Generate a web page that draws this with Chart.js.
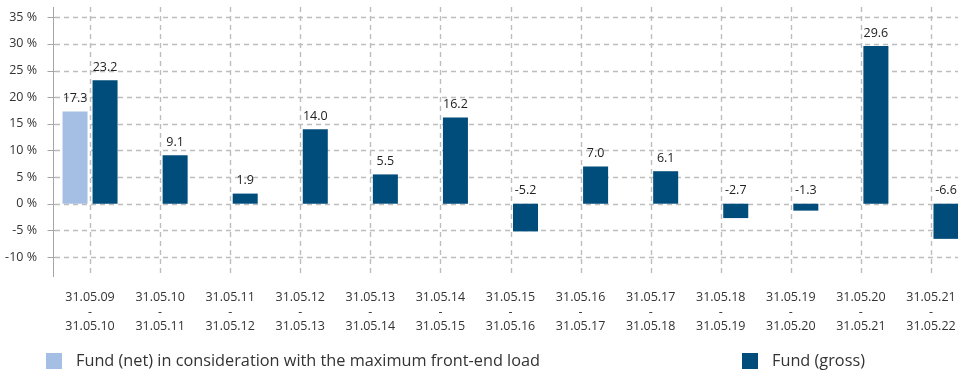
<!DOCTYPE html>
<html>
<head>
<meta charset="utf-8">
<script src="https://cdn.jsdelivr.net/npm/chart.js@4/dist/chart.umd.min.js"></script>
<style>
  html, body { margin: 0; padding: 0; background: #fff; overflow: hidden; }
  #wrap { position: relative; width: 958px; height: 373px; overflow: hidden; }
  canvas { display: block; }
</style>
</head>
<body>
<div id="wrap"><canvas id="c" width="966" height="373"></canvas></div>
<script>
// Annual performance periods
const periodStart = ['31.05.09','31.05.10','31.05.11','31.05.12','31.05.13','31.05.14','31.05.15','31.05.16','31.05.17','31.05.18','31.05.19','31.05.20','31.05.21'];
const periodEnd   = ['31.05.10','31.05.11','31.05.12','31.05.13','31.05.14','31.05.15','31.05.16','31.05.17','31.05.18','31.05.19','31.05.20','31.05.21','31.05.22'];

// Returns in percent
const fundNet   = [17.3, null, null, null, null, null, null, null, null, null, null, null, null];
const fundGross = [23.2, 9.1, 1.9, 14.0, 5.5, 16.2, -5.2, 7.0, 6.1, -2.7, -1.3, 29.6, -6.6];

// Y axis ticks (percent)
const yTicks = [-10, -5, 0, 5, 10, 15, 20, 25, 30, 35];

const seriesNames  = ['Fund (net) in consideration with the maximum front-end load', 'Fund (gross)'];
const seriesColors = ['#a4bee4', '#004c7b'];

const FONT = '"Open Sans", sans-serif';
const TEXT = '#333333';
const GRID = '#bdbdbd';

const labels = periodStart.map((s, i) => [s, '-', periodEnd[i]]);

// Dashed grid behind the bars: horizontal at each y tick, vertical at each category centre
const dashedGrid = {
  id: 'dashedGrid',
  beforeDatasetsDraw(chart) {
    const ctx = chart.ctx;
    const area = chart.chartArea;
    const xs = chart.scales.x, ys = chart.scales.y;
    ctx.save();
    ctx.strokeStyle = GRID;
    ctx.lineWidth = 1.4;
    ctx.setLineDash([5, 4]);
    yTicks.forEach(t => {
      const y = Math.round(ys.getPixelForValue(t)) + 0.5;
      ctx.beginPath();
      ctx.moveTo(area.left, y);
      ctx.lineTo(area.right, y);
      ctx.stroke();
    });
    labels.forEach((_, i) => {
      const x = Math.round(xs.getPixelForValue(i)) + 0.5;
      ctx.beginPath();
      ctx.moveTo(x, area.top);
      ctx.lineTo(x, area.bottom);
      ctx.stroke();
    });
    ctx.restore();
  }
};

// Value labels above each bar (negative bars labelled above the zero line)
const valueLabels = {
  id: 'valueLabels',
  afterDatasetsDraw(chart) {
    const ctx = chart.ctx;
    ctx.save();
    ctx.font = '12.5px ' + FONT;
    ctx.fillStyle = '#222222';
    ctx.textAlign = 'center';
    ctx.textBaseline = 'middle';
    chart.data.datasets.forEach((ds, di) => {
      chart.getDatasetMeta(di).data.forEach((bar, i) => {
        const v = ds.data[i];
        if (v === null || v === undefined) return;
        const top = Math.min(bar.y, bar.base);
        ctx.fillText(v.toFixed(1), bar.x, top - 13);
      });
    });
    ctx.restore();
  }
};

// Y axis line with small tick marks, and the legend row
const axisAndLegend = {
  id: 'axisAndLegend',
  afterDraw(chart) {
    const ctx = chart.ctx;
    const area = chart.chartArea;
    const ys = chart.scales.y;
    const ax = area.left - 1.5;
    ctx.save();
    ctx.strokeStyle = '#a6a6a6';
    ctx.lineWidth = 1;
    ctx.beginPath();
    ctx.moveTo(ax, area.top);
    ctx.lineTo(ax, area.bottom);
    yTicks.forEach(t => {
      const y = Math.round(ys.getPixelForValue(t)) + 0.5;
      ctx.moveTo(ax - 6, y);
      ctx.lineTo(area.left, y);
    });
    ctx.stroke();

    // legend
    const items = [{ x: 46 }, { x: 742 }];
    ctx.font = '16.3px ' + FONT;
    ctx.textBaseline = 'middle';
    ctx.textAlign = 'left';
    items.forEach((it, i) => {
      ctx.fillStyle = seriesColors[i];
      ctx.fillRect(it.x, 353, 16, 16);
      ctx.fillStyle = TEXT;
      ctx.fillText(seriesNames[i], it.x + 30, 361);
    });
    ctx.restore();
  }
};

new Chart(document.getElementById('c'), {
  type: 'bar',
  data: {
    labels: labels,
    datasets: [
      { label: seriesNames[0], data: fundNet, backgroundColor: seriesColors[0] },
      { label: seriesNames[1], data: fundGross, backgroundColor: seriesColors[1] }
    ]
  },
  options: {
    responsive: false,
    animation: false,
    devicePixelRatio: 1,
    layout: { padding: { top: 7, right: 0, left: 0, bottom: 0 } },
    datasets: { bar: { categoryPercentage: 0.857, barPercentage: 0.833 } },
    plugins: { legend: { display: false }, tooltip: { enabled: false } },
    scales: {
      x: {
        offset: true,
        grid: { display: false, drawTicks: false },
        border: { display: false },
        ticks: { color: TEXT, font: { family: FONT, size: 12.5, lineHeight: 1.18 }, padding: 13, maxRotation: 0, autoSkip: false },
        afterFit(scale) {
          scale.height = 96;
          scale.paddingLeft = 0; scale.paddingRight = 0;
        }
      },
      y: {
        min: -13.76,
        max: 36.93,
        afterBuildTicks(scale) { scale.ticks = yTicks.map(v => ({ value: v })); },
        grid: { display: false, drawTicks: false },
        border: { display: false },
        ticks: { color: TEXT, font: { family: FONT, size: 12.5 }, padding: 18, callback: v => v + ' %' },
        afterFit(scale) {
          scale.width = 55;
          scale.paddingTop = 0; scale.paddingBottom = 0;
        }
      }
    }
  },
  plugins: [dashedGrid, valueLabels, axisAndLegend]
});
</script>
</body>
</html>
